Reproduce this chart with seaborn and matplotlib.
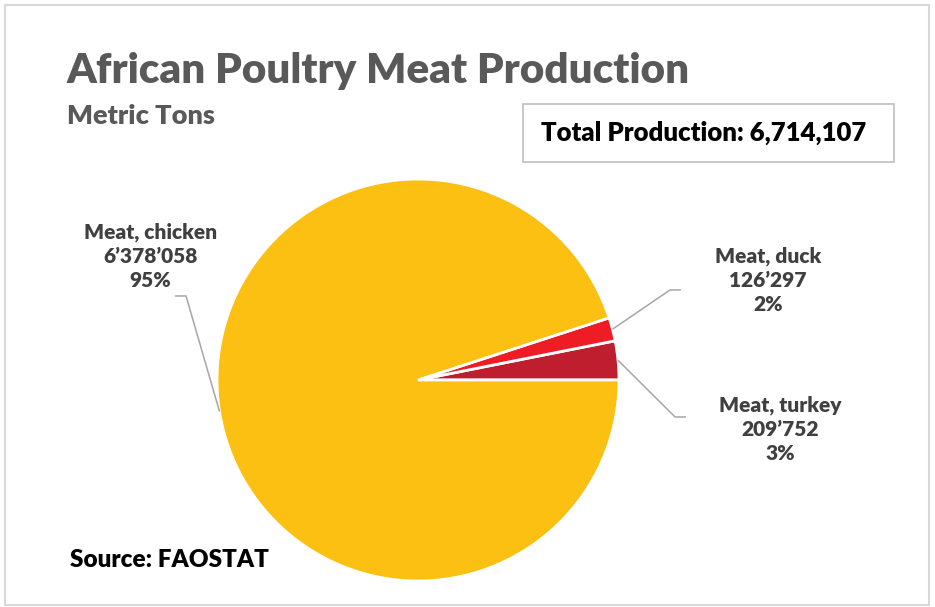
import numpy as np
import matplotlib
matplotlib.use("Agg")
import matplotlib.pyplot as plt
import seaborn as sns
from matplotlib.patches import Rectangle

# data
categories = ["Meat, turkey", "Meat, duck", "Meat, chicken"]
values = [209752, 126297, 6378058]
colors = ["#BE1E2D", "#EE1C25", "#FBC011"]
value_labels = ["209\u2019752", "126\u2019297", "6\u2019378\u2019058"]

sns.set_theme(style="white")
plt.rcParams["font.family"] = ["Lato", "DejaVu Sans"]

W, H = 935, 607
fig = plt.figure(figsize=(W / 100, H / 100), dpi=100)


def fx(x):
    return x / W


def fy(y):
    return 1 - y / H


# outer frame
fig.patches.append(Rectangle((fx(5), fy(605)), fx(924), (600) / H, transform=fig.transFigure,
                             fill=False, edgecolor="#D9D9D9", lw=1.5))

# pie
cx, cy, r = 418, 380, 201
ax = fig.add_axes([fx(cx - r), fy(cy + r), 2 * r / W, 2 * r / H])
wedges, _ = ax.pie(values, colors=colors, startangle=0, counterclock=True,
                   wedgeprops=dict(edgecolor="white", linewidth=2))
ax.set_xlim(-1, 1)
ax.set_ylim(-1, 1)
ax.axis("off")

total = sum(values)
pct = [v / total * 100 for v in values]

# leader line elbows and label centres (in pie radius units)
elbows = {
    "Meat, turkey": [(1.279, -0.184), (1.333, -0.184)],
    "Meat, duck": [(1.254, 0.448), (1.308, 0.448)],
    "Meat, chicken": [(-1.154, 0.418), (-1.209, 0.418)],
}
label_pos = {
    "Meat, turkey": (1.80, -0.244),
    "Meat, duck": (1.741, 0.4975),
    "Meat, chicken": (-1.333, 0.617),
}

for w, cat, vl, p in zip(wedges, categories, value_labels, pct):
    ang = np.deg2rad((w.theta1 + w.theta2) / 2)
    x0, y0 = np.cos(ang), np.sin(ang)
    pts = [(x0, y0)] + elbows[cat]
    ax.plot([q[0] for q in pts], [q[1] for q in pts], color="#A6A6A6", lw=1.1,
            clip_on=False, solid_capstyle="butt")
    lx, ly = label_pos[cat]
    ax.text(lx, ly, f"{cat}\n{vl}\n{p:.0f}%", ha="center", va="center",
            fontsize=15, fontweight="heavy", color="#404040", linespacing=1.3,
            clip_on=False)

# titles
fig.text(fx(67), fy(71), "African Poultry Meat Production", fontsize=30.3, fontweight="heavy",
         color="#595959", ha="left", va="center")
fig.text(fx(67), fy(116), "Metric Tons", fontsize=19.5, fontweight="heavy",
         color="#595959", ha="left", va="center")

# total box
fig.patches.append(Rectangle((fx(523), fy(162)), (894 - 523) / W, (162 - 104) / H,
                             transform=fig.transFigure, fill=False,
                             edgecolor="#BFBFBF", lw=1.2))
fig.text(fx(704), fy(133), f"Total Production: {total:,}", fontsize=18.5, fontweight="heavy",
         color="black", ha="center", va="center")

fig.text(fx(70), fy(560), "Source: FAOSTAT", fontsize=17.5, fontweight="heavy",
         color="black", ha="left", va="center")

fig.savefig("out.png", dpi=100, facecolor="white")
